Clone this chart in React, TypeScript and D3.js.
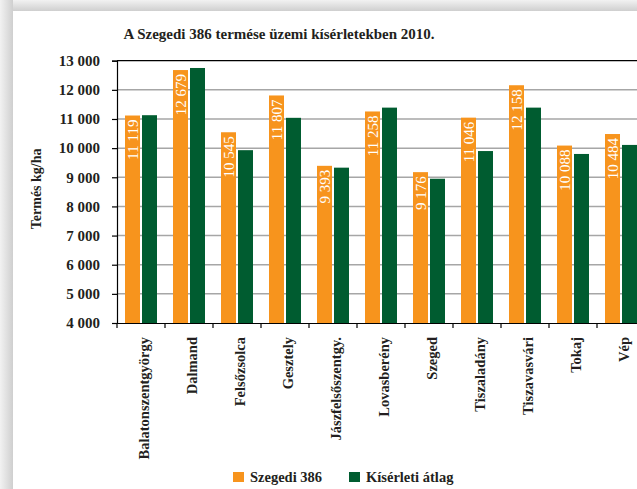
import React, { useEffect, useRef } from 'react';
import * as d3 from 'd3';

const categories = [
  'Balatonszentgyörgy', 'Dalmand', 'Felsőzsolca', 'Gesztely', 'Jászfelsőszentgy.',
  'Lovasberény', 'Szeged', 'Tiszaladány', 'Tiszavasvári', 'Tokaj', 'Vép',
];
const szegedi386 = [11119, 12679, 10545, 11807, 9393, 11258, 9176, 11046, 12158, 10088, 10484];
const kiserletiAtlag = [11130, 12750, 9930, 11040, 9330, 11390, 8950, 9900, 11390, 9800, 10110];
const seriesNames = ['Szegedi 386', 'Kísérleti átlag'];
const seriesColors = ['#f7941d', '#005c30'];
const yTicks = [4000, 5000, 6000, 7000, 8000, 9000, 10000, 11000, 12000, 13000];

const W = 637;
const H = 489;
const FONT = '"Liberation Serif", "DejaVu Serif", serif';

export default function App() {
  const ref = useRef<SVGSVGElement>(null);

  useEffect(() => {
    const svg = d3.select(ref.current);
    svg.selectAll('*').remove();

    // card with shadow
    const defs = svg.append('defs');
    const gTop = defs.append('linearGradient').attr('id', 'shTop').attr('x1', 0).attr('y1', 0).attr('x2', 0).attr('y2', 1);
    gTop.append('stop').attr('offset', '0%').attr('stop-color', '#f2f2f2');
    gTop.append('stop').attr('offset', '100%').attr('stop-color', '#cfcfcf');
    const gLeft = defs.append('linearGradient').attr('id', 'shLeft').attr('x1', 0).attr('y1', 0).attr('x2', 1).attr('y2', 0);
    gLeft.append('stop').attr('offset', '0%').attr('stop-color', '#f2f2f2');
    gLeft.append('stop').attr('offset', '100%').attr('stop-color', '#cfcfcf');

    svg.append('rect').attr('width', W).attr('height', H).attr('fill', '#f2f2f2');
    svg.append('rect').attr('x', 0).attr('y', 0).attr('width', W).attr('height', 11).attr('fill', 'url(#shTop)');
    svg.append('rect').attr('x', 0).attr('y', 0).attr('width', 13).attr('height', H).attr('fill', 'url(#shLeft)');
    svg.append('rect').attr('x', 13).attr('y', 11).attr('width', W).attr('height', H).attr('fill', '#ffffff');

    const left = 117;
    const top = 60.7;
    const bottom = 323;
    const step = 48;

    const x = d3.scaleBand<string>()
      .domain(categories)
      .range([left, left + step * categories.length])
      .padding(0);
    const xs = d3.scaleBand<number>()
      .domain([0, 1])
      .range([0, x.bandwidth()])
      .paddingInner(0.1176)
      .paddingOuter(0.4706);
    const y = d3.scaleLinear().domain([4000, 13000]).range([bottom, top]);

    const fmt = d3.formatLocale({ decimal: ',', thousands: '\u00a0', grouping: [3], currency: ['', ''] }).format(',d');

    // title
    svg.append('text')
      .attr('x', 279).attr('y', 39)
      .attr('text-anchor', 'middle')
      .attr('font-family', FONT).attr('font-weight', 'bold').attr('font-size', 15)
      .attr('fill', '#231f20')
      .text('A Szegedi 386 termése üzemi kísérletekben 2010.');

    // grid
    svg.append('g')
      .selectAll('line')
      .data(yTicks.filter(t => t > 4000 && t < 13000))
      .join('line')
      .attr('x1', left).attr('x2', W)
      .attr('y1', d => y(d)).attr('y2', d => y(d))
      .attr('stroke', '#a6a6a6').attr('stroke-width', 1.5);

    svg.append('line')
      .attr('x1', left).attr('x2', W)
      .attr('y1', y(13000)).attr('y2', y(13000))
      .attr('stroke', '#000').attr('stroke-width', 1.2);

    // bars
    const data = categories.map((c, i) => ({ c, v: [szegedi386[i], kiserletiAtlag[i]] }));
    const groups = svg.append('g')
      .selectAll('g')
      .data(data)
      .join('g')
      .attr('transform', d => `translate(${x(d.c)},0)`);

    groups.selectAll('rect')
      .data(d => d.v)
      .join('rect')
      .attr('x', (_, i) => xs(i)!)
      .attr('width', xs.bandwidth())
      .attr('y', d => y(d))
      .attr('height', d => bottom - y(d))
      .attr('fill', (_, i) => seriesColors[i]);

    // value labels inside orange bars
    groups.append('text')
      .attr('transform', d => `translate(${xs(0)! + xs.bandwidth() / 2 + 0.5},${y(d.v[0]) + 4}) rotate(-90)`)
      .attr('text-anchor', 'end')
      .attr('dominant-baseline', 'central')
      .attr('font-family', FONT).attr('font-size', 15)
      .attr('fill', '#ffffff')
      .text(d => fmt(d.v[0]));

    // y axis
    const yAxis = svg.append('g')
      .attr('transform', `translate(${left},0)`)
      .call(d3.axisLeft(y).tickValues(yTicks).tickSize(5).tickPadding(12).tickFormat(d => fmt(+d)));
    yAxis.select('.domain').attr('stroke', '#000').attr('stroke-width', 1.2);
    yAxis.selectAll('.tick line').attr('stroke', '#000').attr('stroke-width', 1.2);
    yAxis.selectAll('.tick text')
      .attr('font-family', FONT).attr('font-weight', 'bold').attr('font-size', 15)
      .attr('fill', '#231f20');

    // x axis
    const xAxis = svg.append('g')
      .attr('transform', `translate(0,${bottom})`)
      .call(d3.axisBottom(x).tickSize(0).tickFormat(() => ''));
    xAxis.select('.domain').attr('stroke', '#000').attr('stroke-width', 1.2);
    svg.append('g')
      .selectAll('line')
      .data(categories)
      .join('line')
      .attr('x1', d => x(d)!).attr('x2', d => x(d)!)
      .attr('y1', bottom).attr('y2', bottom + 5)
      .attr('stroke', '#000').attr('stroke-width', 1.2);

    svg.append('g')
      .selectAll('text')
      .data(categories)
      .join('text')
      .attr('transform', d => `translate(${x(d)! + x.bandwidth() / 2 + 3},${bottom + 14}) rotate(-90)`)
      .attr('text-anchor', 'end')
      .attr('dominant-baseline', 'central')
      .attr('font-family', FONT).attr('font-weight', 'bold').attr('font-size', 14.5)
      .attr('fill', '#231f20')
      .text(d => d);

    // y axis title
    svg.append('text')
      .attr('transform', `translate(36,${(top + bottom) / 2 - 3}) rotate(-90)`)
      .attr('text-anchor', 'middle')
      .attr('dominant-baseline', 'central')
      .attr('font-family', FONT).attr('font-weight', 'bold').attr('font-size', 14)
      .attr('fill', '#231f20')
      .text('Termés kg/ha');

    // legend
    const legendX = [233, 349];
    const legend = svg.append('g')
      .selectAll('g')
      .data(seriesNames)
      .join('g')
      .attr('transform', (_, i) => `translate(${legendX[i]},472)`);
    legend.append('rect')
      .attr('width', 11).attr('height', 10)
      .attr('fill', (_, i) => seriesColors[i]);
    legend.append('text')
      .attr('x', 17).attr('y', 10)
      .attr('font-family', FONT).attr('font-weight', 'bold').attr('font-size', 14.5)
      .attr('fill', '#231f20')
      .text(d => d);
  }, []);

  return (
    <div style={{ position: 'fixed', left: 0, top: 0 }}>
      <svg ref={ref} width={W} height={H} style={{ display: 'block' }} />
    </div>
  );
}
